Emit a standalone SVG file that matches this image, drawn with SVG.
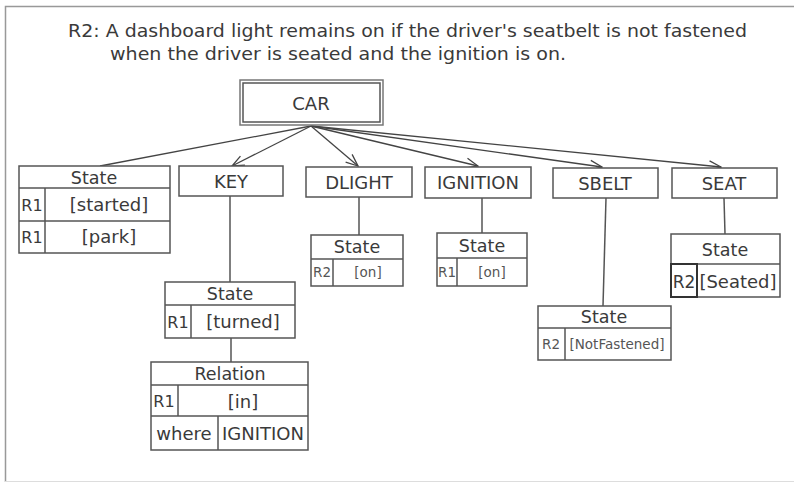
<svg xmlns="http://www.w3.org/2000/svg" width="794" height="483" viewBox="0 0 794 483">
<defs>
<style>
text{font-family:"DejaVu Sans",Verdana,sans-serif;fill:#3a3a3a;}
.t{font-size:18px;}
.l{font-size:18px;text-anchor:middle;}
.h{font-size:17.5px;text-anchor:middle;}
.r{font-size:16px;text-anchor:middle;}
.s{font-size:13.5px;text-anchor:middle;fill:#555;}
.b{fill:#fff;stroke:#555;stroke-width:1.5;}
.ln{stroke:#555;stroke-width:1.5;fill:none;}
.c{stroke:#444;stroke-width:1.3;fill:none;}
</style>
<marker id="ah" markerWidth="14" markerHeight="12" refX="13" refY="6" orient="auto" markerUnits="userSpaceOnUse">
<path d="M1,1 L13,6 L1,11" fill="none" stroke="#444" stroke-width="1.3"/>
</marker>
</defs>
<rect x="0" y="0" width="794" height="483" fill="#fff"/>
<path d="M5.5,482 V6.5 H794" fill="none" stroke="#999" stroke-width="1.5"/>
<line x1="5" y1="481.5" x2="794" y2="481.5" stroke="#ddd" stroke-width="1"/>
<text class="t" x="68" y="37" textLength="679" lengthAdjust="spacingAndGlyphs">R2: A dashboard light remains on if the driver's seatbelt is not fastened</text>
<text class="t" x="110" y="60" textLength="456" lengthAdjust="spacingAndGlyphs">when the driver is seated and the ignition is on.</text>

<g id="connectors">
<line class="c" x1="311" y1="126" x2="100" y2="166"/>
<line class="c" x1="311" y1="126" x2="232" y2="166" marker-end="url(#ah)"/>
<line class="c" x1="311" y1="126" x2="358" y2="166" marker-end="url(#ah)"/>
<line class="c" x1="311" y1="126" x2="478" y2="166" marker-end="url(#ah)"/>
<line class="c" x1="311" y1="126" x2="602" y2="167" marker-end="url(#ah)"/>
<line class="c" x1="311" y1="126" x2="721" y2="167" marker-end="url(#ah)"/>
<line class="ln" x1="230" y1="196" x2="230" y2="282"/>
<line class="ln" x1="231" y1="338" x2="231" y2="362"/>
<line class="ln" x1="359" y1="197" x2="359" y2="235"/>
<line class="ln" x1="482" y1="198" x2="482" y2="233"/>
<line class="ln" x1="606" y1="198" x2="603" y2="306"/>
<line class="ln" x1="724" y1="198" x2="725" y2="234"/>
</g>

<g id="car">
<rect x="240" y="80" width="143" height="45" fill="#fff" stroke="#777" stroke-width="1.5"/>
<rect x="243" y="83" width="137" height="39" fill="none" stroke="#555" stroke-width="1.5"/>
<text class="l" x="311" y="110">CAR</text>
</g>

<g id="car-state">
<rect class="b" x="19" y="166" width="151" height="87"/>
<line class="ln" x1="19" y1="188" x2="170" y2="188"/>
<line class="ln" x1="19" y1="221" x2="170" y2="221"/>
<line class="ln" x1="45" y1="188" x2="45" y2="253"/>
<text class="h" x="94" y="184">State</text>
<text class="r" x="32" y="211">R1</text>
<text class="l" x="109" y="211">[started]</text>
<text class="r" x="32" y="243">R1</text>
<text class="l" x="109" y="243">[park]</text>
</g>

<g id="key">
<rect class="b" x="179" y="166" width="104" height="30"/>
<text class="l" x="231" y="188">KEY</text>
</g>
<g id="key-state">
<rect class="b" x="165" y="282" width="130" height="56"/>
<line class="ln" x1="165" y1="305" x2="295" y2="305"/>
<line class="ln" x1="191" y1="305" x2="191" y2="338"/>
<text class="h" x="230" y="300">State</text>
<text class="r" x="178" y="328">R1</text>
<text class="l" x="243" y="328">[turned]</text>
</g>
<g id="key-relation">
<rect class="b" x="151" y="362" width="157" height="88"/>
<line class="ln" x1="151" y1="385" x2="308" y2="385"/>
<line class="ln" x1="151" y1="416" x2="308" y2="416"/>
<line class="ln" x1="178" y1="385" x2="178" y2="416"/>
<line class="ln" x1="218" y1="416" x2="218" y2="450"/>
<text class="h" x="230" y="380">Relation</text>
<text class="r" x="164" y="407">R1</text>
<text class="l" x="243" y="408">[in]</text>
<text class="l" x="184" y="440">where</text>
<text class="l" x="263" y="440">IGNITION</text>
</g>

<g id="dlight">
<rect class="b" x="306" y="167" width="106" height="30"/>
<text class="l" x="359" y="189">DLIGHT</text>
</g>
<g id="dlight-state">
<rect class="b" x="311" y="235" width="92" height="51"/>
<line class="ln" x1="311" y1="259" x2="403" y2="259"/>
<line class="ln" x1="333" y1="259" x2="333" y2="286"/>
<text class="h" x="357" y="253">State</text>
<text class="s" x="322" y="277">R2</text>
<text class="s" x="368" y="277">[on]</text>
</g>

<g id="ignition">
<rect class="b" x="425" y="167" width="106" height="31"/>
<text class="l" x="478" y="189">IGNITION</text>
</g>
<g id="ignition-state">
<rect class="b" x="437" y="233" width="90" height="53"/>
<line class="ln" x1="437" y1="258" x2="527" y2="258"/>
<line class="ln" x1="457" y1="258" x2="457" y2="286"/>
<text class="h" x="482" y="252">State</text>
<text class="s" x="447" y="277">R1</text>
<text class="s" x="492" y="277">[on]</text>
</g>

<g id="sbelt">
<rect class="b" x="553" y="168" width="105" height="30"/>
<text class="l" x="605" y="190">SBELT</text>
</g>
<g id="sbelt-state">
<rect class="b" x="538" y="306" width="133" height="54"/>
<line class="ln" x1="538" y1="328" x2="671" y2="328"/>
<line class="ln" x1="565" y1="328" x2="565" y2="360"/>
<text class="h" x="604" y="323">State</text>
<text class="s" x="551" y="349">R2</text>
<text class="s" x="617" y="349">[NotFastened]</text>
</g>

<g id="seat">
<rect class="b" x="672" y="168" width="105" height="30"/>
<text class="l" x="724" y="190">SEAT</text>
</g>
<g id="seat-state">
<rect class="b" x="671" y="234" width="109" height="63"/>
<line class="ln" x1="671" y1="264" x2="780" y2="264"/>
<rect x="671" y="264" width="26" height="33" fill="none" stroke="#333" stroke-width="2"/>
<text class="h" x="725" y="256">State</text>
<text class="l" x="684" y="288" style="font-size:17px">R2</text>
<text class="l" x="738" y="288">[Seated]</text>
</g>
</svg>
